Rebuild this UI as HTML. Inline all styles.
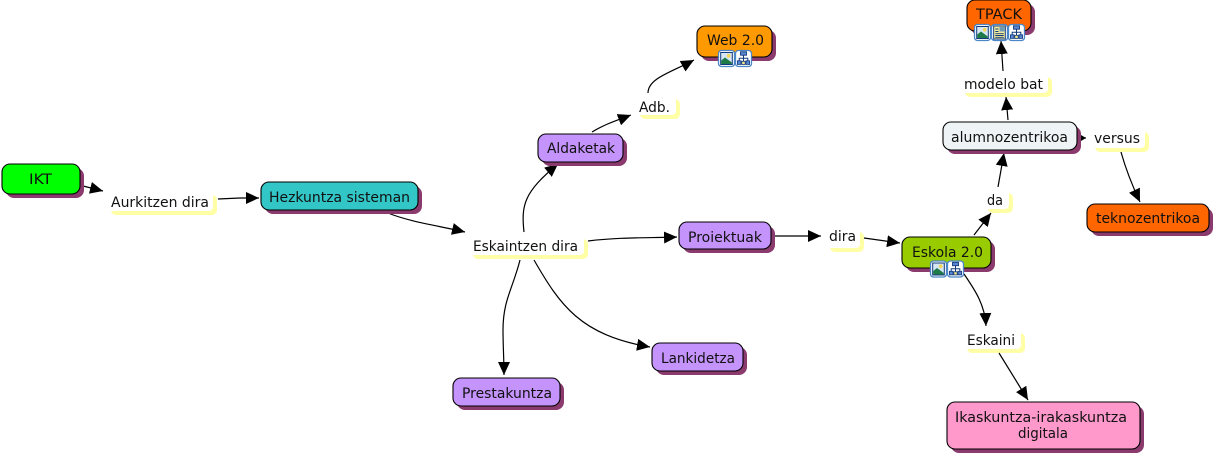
<!DOCTYPE html>
<html>
<head>
<meta charset="utf-8">
<style>
html,body{margin:0;padding:0;background:#fff;width:1214px;height:456px;overflow:hidden}
svg{display:block}
text{font-family:"DejaVu Sans","Liberation Sans",sans-serif;font-size:14px;fill:#111}
.c{fill:none;stroke:#000;stroke-width:1.2}
.n{stroke:#000;stroke-width:1.1}
.s{fill:#8b3a6e}
.y{fill:#ffffa6}
.w{fill:#fff}
</style>
</head>
<body>
<svg width="1214" height="456" viewBox="0 0 1214 456" xmlns="http://www.w3.org/2000/svg">
<defs>
<marker id="a" markerUnits="userSpaceOnUse" markerWidth="14" markerHeight="12" refX="13" refY="6" orient="auto">
<path d="M0 0L13 6L0 12Z" fill="#000"/>
</marker>
<marker id="b" markerUnits="userSpaceOnUse" markerWidth="6" markerHeight="6" refX="5" refY="3" orient="auto">
<path d="M0 0L5 3L0 6Z" fill="#000"/>
</marker>
<g id="frame"><rect x="0.5" y="0.5" width="16" height="16" rx="3" fill="#fff" stroke="#4a86c8" stroke-width="1.3"/></g>
<g id="pic">
<use href="#frame"/>
<rect x="2.7" y="2.5" width="11.6" height="12" fill="#d5e6f5" stroke="#123a7a" stroke-width="1"/>
<circle cx="10.7" cy="5.8" r="1.9" fill="#f2d95c"/>
<path d="M3.2 14V10.5L7 7.5L13.8 12.5V14Z" fill="#1f7a4a"/>
</g>
<g id="doc">
<use href="#frame"/>
<rect x="2.7" y="2" width="11.6" height="13" fill="#f7ee9c" stroke="#123a7a" stroke-width="1"/>
<rect x="8.5" y="3" width="5" height="4.5" fill="#6e9ab8"/>
<path d="M4.3 5H7.5M4.3 7.5H7.5M4.3 9.7H12.8M4.3 11.5H12.8M4.3 13.3H12.8" stroke="#123a7a" stroke-width="0.9"/>
</g>
<g id="map">
<use href="#frame"/>
<rect x="5.5" y="1.8" width="6" height="3.4" fill="#5b86d0" stroke="#123a7a" stroke-width="0.9"/>
<path d="M8.5 5.2V12M4.2 11V8.3H12.8V11" fill="none" stroke="#123a7a" stroke-width="1"/>
<rect x="2.4" y="10.8" width="3.6" height="3.6" fill="#5b86d0" stroke="#123a7a" stroke-width="0.8"/>
<rect x="6.8" y="11.3" width="3.4" height="3.1" fill="#f2e68c" stroke="#123a7a" stroke-width="0.8"/>
<rect x="11" y="10.8" width="3.6" height="3.6" fill="#5b86d0" stroke="#123a7a" stroke-width="0.8"/>
</g>
</defs>

<!-- label backgrounds -->
<rect class="y" x="111" y="195" width="106" height="20" rx="5"/><rect class="w" x="108" y="191" width="105" height="20" rx="4"/>
<rect class="y" x="473" y="239" width="115" height="20" rx="5"/><rect class="w" x="470" y="235" width="114" height="20" rx="4"/>
<rect class="y" x="640" y="99" width="40" height="20" rx="5"/><rect class="w" x="637" y="95" width="39" height="20" rx="4"/>
<rect class="y" x="830" y="232" width="34" height="20" rx="5"/><rect class="w" x="827" y="228" width="33" height="20" rx="4"/>
<rect class="y" x="965" y="77" width="87" height="20" rx="5"/><rect class="w" x="962" y="73" width="86" height="20" rx="4"/>
<rect class="y" x="1095" y="132" width="54" height="20" rx="5"/><rect class="w" x="1092" y="128" width="53" height="20" rx="4"/>
<rect class="y" x="988" y="193" width="25" height="20" rx="5"/><rect class="w" x="985" y="189" width="24" height="20" rx="4"/>
<rect class="y" x="967" y="333" width="58" height="20" rx="5"/><rect class="w" x="964" y="329" width="57" height="20" rx="4"/>

<!-- connectors -->
<path class="c" marker-end="url(#a)" d="M83 186L103 191"/>
<path class="c" marker-end="url(#a)" d="M218 199L240 198L259 198"/>
<path class="c" marker-end="url(#a)" d="M388 213C410 222 440 226 465 232"/>
<path class="c" marker-end="url(#a)" d="M524 232C521 205 524 192 558 164"/>
<path class="c" marker-end="url(#a)" d="M592 132C605 124 618 120 631 115"/>
<path class="c" marker-end="url(#a)" d="M648 93C648 78 672 72 694 60"/>
<path class="c" marker-end="url(#a)" d="M588 241C620 237 650 238 677 237"/>
<path class="c" marker-end="url(#a)" d="M520 260C513 288 503 300 503 330C503 345 504 360 504 375"/>
<path class="c" marker-end="url(#a)" d="M534 260C560 305 580 335 650 347"/>
<path class="c" marker-end="url(#a)" d="M775 236L821 236"/>
<path class="c" marker-end="url(#a)" d="M864 238L900 243"/>
<path class="c" marker-end="url(#a)" d="M974 235L991 213"/>
<path class="c" marker-end="url(#a)" d="M998 187L1004 153"/>
<path class="c" marker-end="url(#a)" d="M1008 120L1006 97"/>
<path class="c" marker-end="url(#a)" d="M1003 71L1001 41"/>
<path class="c" marker-end="url(#b)" d="M1081 138L1086 138"/>
<path class="c" marker-end="url(#a)" d="M1121 152C1126 170 1132 185 1140 202"/>
<path class="c" marker-end="url(#a)" d="M964 274C975 290 985 305 986 326"/>
<path class="c" marker-end="url(#a)" d="M999 353L1028 400"/>

<!-- nodes -->
<rect class="s" x="6" y="168" width="78" height="30" rx="8"/><rect class="n" x="2" y="164" width="78" height="30" rx="8" fill="#00ff00"/>
<rect class="s" x="265" y="186" width="157" height="28" rx="8"/><rect class="n" x="261" y="182" width="157" height="28" rx="8" fill="#33c6c6"/>
<rect class="s" x="542" y="138" width="85" height="28" rx="8"/><rect class="n" x="538" y="134" width="85" height="28" rx="8" fill="#c493fb"/>
<rect class="s" x="701" y="30" width="75" height="31" rx="8"/><rect class="n" x="697" y="26" width="75" height="31" rx="8" fill="#ff9900"/>
<rect class="s" x="971" y="4" width="64" height="31" rx="8"/><rect class="n" x="967" y="0" width="64" height="31" rx="8" fill="#ff6600"/>
<rect class="s" x="947" y="126" width="134" height="28" rx="8"/><rect class="n" x="943" y="122" width="134" height="28" rx="8" fill="#eef3f5"/>
<rect class="s" x="1091" y="208" width="122" height="28" rx="8"/><rect class="n" x="1087" y="204" width="122" height="28" rx="8" fill="#ff6600"/>
<rect class="s" x="906" y="241" width="89" height="31" rx="8"/><rect class="n" x="902" y="237" width="89" height="31" rx="8" fill="#99cc00"/>
<rect class="s" x="683" y="226" width="92" height="27" rx="8"/><rect class="n" x="679" y="222" width="92" height="27" rx="8" fill="#c493fb"/>
<rect class="s" x="656" y="347" width="91" height="28" rx="8"/><rect class="n" x="652" y="343" width="91" height="28" rx="8" fill="#c493fb"/>
<rect class="s" x="457" y="382" width="107" height="28" rx="8"/><rect class="n" x="453" y="378" width="107" height="28" rx="8" fill="#c493fb"/>
<rect class="s" x="951" y="406" width="193" height="47" rx="8"/><rect class="n" x="947" y="402" width="193" height="47" rx="8" fill="#ff99cc"/>

<!-- icons -->
<use href="#pic" x="718" y="50"/><use href="#map" x="735" y="50"/>
<use href="#pic" x="974" y="24"/><use href="#doc" x="991" y="24"/><use href="#map" x="1008" y="24"/>
<use href="#pic" x="930" y="260.500"/><use href="#map" x="947" y="260.500"/>

<!-- text -->
<text x="29" y="184" textLength="23" lengthAdjust="spacingAndGlyphs">IKT</text>
<text x="111" y="207" textLength="98" lengthAdjust="spacingAndGlyphs">Aurkitzen dira</text>
<text x="269" y="202" textLength="141" lengthAdjust="spacingAndGlyphs">Hezkuntza sisteman</text>
<text x="473" y="251" textLength="105" lengthAdjust="spacingAndGlyphs">Eskaintzen dira</text>
<text x="547" y="153" textLength="68" lengthAdjust="spacingAndGlyphs">Aldaketak</text>
<text x="639" y="112" textLength="31" lengthAdjust="spacingAndGlyphs">Adb.</text>
<text x="707" y="45" textLength="57" lengthAdjust="spacingAndGlyphs">Web 2.0</text>
<text x="976" y="19" textLength="46" lengthAdjust="spacingAndGlyphs">TPACK</text>
<text x="964" y="89" textLength="79" lengthAdjust="spacingAndGlyphs">modelo bat</text>
<text x="951" y="142" textLength="117" lengthAdjust="spacingAndGlyphs">alumnozentrikoa</text>
<text x="1094" y="143" textLength="46" lengthAdjust="spacingAndGlyphs">versus</text>
<text x="1096" y="223" textLength="104" lengthAdjust="spacingAndGlyphs">teknozentrikoa</text>
<text x="912" y="257" textLength="71" lengthAdjust="spacingAndGlyphs">Eskola 2.0</text>
<text x="987" y="205" textLength="16" lengthAdjust="spacingAndGlyphs">da</text>
<text x="967" y="345" textLength="48" lengthAdjust="spacingAndGlyphs">Eskaini</text>
<text x="955" y="422" textLength="172" lengthAdjust="spacingAndGlyphs">Ikaskuntza-irakaskuntza</text>
<text x="1018" y="438" textLength="50" lengthAdjust="spacingAndGlyphs">digitala</text>
<text x="688" y="242" textLength="74" lengthAdjust="spacingAndGlyphs">Proiektuak</text>
<text x="829" y="241" textLength="27" lengthAdjust="spacingAndGlyphs">dira</text>
<text x="661" y="363" textLength="74" lengthAdjust="spacingAndGlyphs">Lankidetza</text>
<text x="462" y="398" textLength="90" lengthAdjust="spacingAndGlyphs">Prestakuntza</text>
</svg>
</body>
</html>
